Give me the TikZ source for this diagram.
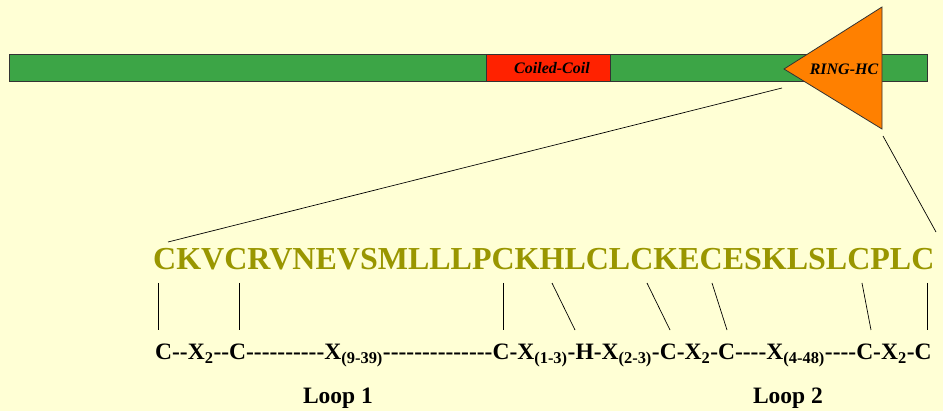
\documentclass[tikz,border=0pt]{standalone}
\usepackage{fontspec}
\setmainfont{Liberation Serif}
\newcommand\hy{-\kern0pt }
\newcommand\hys[1]{\foreach \i in {1,...,#1}{\hy}}
\definecolor{bg}{RGB}{255,255,213}
\definecolor{bargreen}{RGB}{60,165,70}
\definecolor{ccred}{RGB}{255,34,0}
\definecolor{ringor}{RGB}{255,128,0}
\definecolor{olive}{RGB}{153,150,0}
\tikzset{
  link/.style={draw=black, line width=0.7pt},
  domlabel/.style={font=\fontsize{16}{18}\selectfont\bfseries\itshape, inner sep=0pt},
  looplabel/.style={font=\fontsize{23.5}{26}\selectfont\bfseries, inner sep=0pt},
}
\begin{document}
\begin{tikzpicture}[x=1pt,y=-1pt]
\path[fill=bg, use as bounding box] (0,0) rectangle (943,411);
% bar
\draw[fill=bargreen, draw=black!80, line width=0.8pt] (9,54) rectangle (927,81);
\node[draw=black!80, line width=0.8pt, fill=ccred, minimum width=124pt, minimum height=27pt, inner sep=0pt, anchor=north west] (cc) at (486,54) {};
\node[domlabel] (cclabel) at (552,68) {Coiled-Coil};
\draw[fill=ringor, draw=black!80, line width=0.8pt] (784,69) coordinate (tip) -- (882,7) coordinate (ttop) -- (882,129) coordinate (tbot) -- cycle;
\node[domlabel] (ring) at (844,69) {RING-HC};
% sequence
\node[anchor=base west, inner sep=0pt, text=olive, font=\fontsize{32}{36}\selectfont\bfseries] (seq) at (153,270) {CKVCRVNEVSMLLLPCKHLCLCKECESKLSLCPLC};
\coordinate (z1) at (782,88);
\coordinate (z2) at (168,242);
\coordinate (z3) at (883,136);
\coordinate (z4) at (936,232);
\draw[link] (z1) -- (z2);
\draw[link] (z3) -- (z4);
% consensus
\node[anchor=base west, inner sep=0pt, font=\fontsize{23.5}{28}\selectfont\bfseries] (cons) at (155,360) {C\hys{2}X\textsubscript{2}\hys{2}C\hys{10}X\textsubscript{(9-39)}\hys{14}C\hy X\textsubscript{(1-3)}\hy H\hy X\textsubscript{(2-3)}\hy C\hy X\textsubscript{2}\hy C\hys{4}X\textsubscript{(4-48)}\hys{4}C\hy X\textsubscript{2}\hy C};
\foreach \n/\ax/\bx in {1/158/158, 2/239/239, 3/503/503, 4/552/575, 5/647/670, 6/712/727, 7/862/871, 8/927/927}{
  \coordinate (a\n) at (\ax,283);
  \coordinate (b\n) at (\bx,330);
  \draw[link] (a\n) -- (b\n);
}
\node[looplabel] (loop1) at (338,398) {Loop 1};
\node[looplabel] (loop2) at (788,398) {Loop 2};
\end{tikzpicture}
\end{document}
